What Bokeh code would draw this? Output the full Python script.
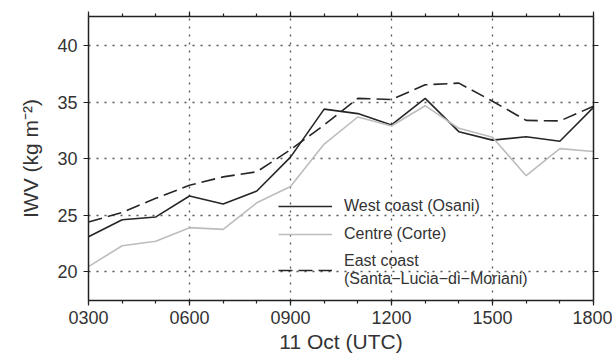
from bokeh.plotting import figure
from bokeh.models import (FixedTicker, LinearAxis, Legend, LegendItem,
                          CustomJSTickFormatter, Range1d)
from bokeh.embed import file_html
from bokeh.resources import INLINE

# Hourly integrated water vapour, 11 Oct (UTC)
hours = [3, 4, 5, 6, 7, 8, 9, 10, 11, 12, 13, 14, 15, 16, 17, 18]
west_coast = [23.1, 24.6, 24.85, 26.7, 26.0, 27.15, 30.15, 34.4, 34.0, 33.0,
              35.35, 32.4, 31.65, 31.95, 31.55, 34.55]
centre = [20.45, 22.3, 22.7, 23.9, 23.75, 26.1, 27.55, 31.3, 33.7, 32.9,
          34.7, 32.7, 31.9, 28.5, 30.9, 30.65]
east_coast = [24.4, 25.25, 26.5, 27.65, 28.4, 28.85, 30.8, 33.0, 35.35, 35.25,
              36.55, 36.7, 35.1, 33.4, 33.35, 34.65]

x_ticks = [3, 6, 9, 12, 15, 18]
x_tick_labels = ["0300", "0600", "0900", "1200", "1500", "1800"]
y_ticks = [20, 25, 30, 35, 40]

series_names = ["West coast (Osani)", "Centre (Corte)",
                "East coast\n(Santa\u2212Lucia\u2212di\u2212Moriani)"]

FONT = "Liberation Sans"
INK = "#222222"

p = figure(width=612, height=361, output_backend="svg", toolbar_location=None,
           x_range=Range1d(3, 18), y_range=Range1d(17.45, 42.6),
           min_border_left=88, min_border_right=19, min_border_top=16,
           min_border_bottom=61, background_fill_color="white",
           border_fill_color="white", outline_line_color=None)

xticker = FixedTicker(ticks=x_ticks, minor_ticks=hours)
yticker = FixedTicker(ticks=y_ticks, minor_ticks=[])


def style_axis(ax):
    ax.axis_line_color = INK
    ax.axis_line_width = 1.5
    ax.major_tick_line_color = INK
    ax.major_tick_line_width = 1.2
    ax.minor_tick_line_color = INK
    ax.minor_tick_line_width = 1.2
    ax.major_tick_in = 0
    ax.major_tick_out = 5
    ax.minor_tick_in = 0
    ax.minor_tick_out = 3
    ax.major_label_text_font = FONT
    ax.major_label_text_font_size = "18px"
    ax.major_label_text_color = "#333333"
    ax.axis_label_text_font = FONT
    ax.axis_label_text_font_size = "21px"
    ax.axis_label_text_font_style = "normal"
    ax.axis_label_text_color = "#333333"


xa = p.xaxis[0]
xa.ticker = xticker
xa.major_label_overrides = {t: lab for t, lab in zip(x_ticks, x_tick_labels)}
xa.axis_label = "11 Oct (UTC)"
style_axis(xa)
xa.major_label_standoff = 5
xa.axis_label_standoff = 3

ya = p.yaxis[0]
ya.ticker = yticker
ya.axis_label = "IWV (kg m\u207b\u00b2)"
style_axis(ya)
ya.major_label_standoff = 6
ya.axis_label_standoff = 12

blank = CustomJSTickFormatter(code="return ''")
top = LinearAxis(ticker=xticker, formatter=blank)
style_axis(top)
top.major_label_standoff = 0
p.add_layout(top, "above")
right = LinearAxis(ticker=yticker, formatter=blank)
style_axis(right)
right.major_label_standoff = 0
p.add_layout(right, "right")

for g in (p.xgrid[0], p.ygrid[0]):
    g.grid_line_color = "#555555"
    g.grid_line_dash = "2 6"
    g.grid_line_width = 1.3
p.xgrid[0].ticker = xticker
p.ygrid[0].ticker = yticker

r_west = p.line(hours, west_coast, line_color="#262626", line_width=1.6)
r_centre = p.line(hours, centre, line_color="#bdbdbd", line_width=1.6)
r_east = p.line(hours, east_coast, line_color="#262626", line_width=1.6,
                line_dash="14 6")

legend = Legend(items=[LegendItem(label=series_names[0], renderers=[r_west]),
                       LegendItem(label=series_names[1], renderers=[r_centre]),
                       LegendItem(label=series_names[2], renderers=[r_east])],
                location=(180, 2), orientation="vertical")
legend.background_fill_alpha = 0
legend.border_line_alpha = 0
legend.label_text_font = FONT
legend.label_text_font_size = "16px"
legend.label_text_color = "#333333"
legend.label_text_line_height = 1.4
legend.glyph_width = 54
legend.label_standoff = 12
legend.spacing = 8
p.add_layout(legend, "center")

open("out.html", "w").write(file_html(p, INLINE))
